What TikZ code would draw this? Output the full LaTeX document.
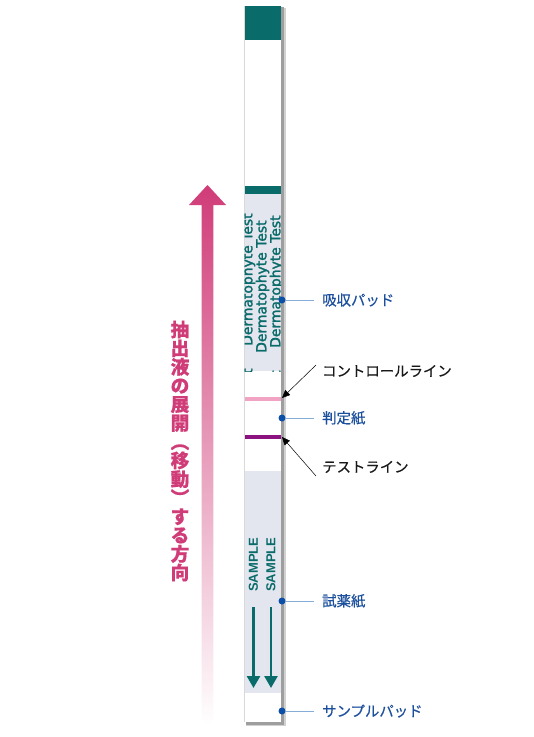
\documentclass[tikz,border=0pt]{standalone}
\usepackage{fontspec}
\usepackage{xcolor}
\usepackage{tikz}
\usetikzlibrary{arrows.meta}
\newfontfamily\jp[FakeBold=0.5]{Noto Sans CJK JP}
\newfontfamily\dvs[FakeBold=2]{DejaVu Sans}
\newfontfamily\lsans{Liberation Sans}

\definecolor{stripteal}{HTML}{0A6B6B}
\definecolor{padgray}{HTML}{E3E6EE}
\definecolor{ctrlpink}{HTML}{F2A3C4}
\definecolor{testpurple}{HTML}{8C1280}
\definecolor{flowmag}{HTML}{D03C78}
\definecolor{labblue}{HTML}{1C4F9C}
\definecolor{dotblue}{HTML}{0B4FA8}
\definecolor{leadblue}{HTML}{86ACD8}

\tikzset{
  partlabel/.style={anchor=west, inner sep=0pt, font=\jp\fontsize{14.4}{14.4}\selectfont, text=labblue},
  linelabel/.style={anchor=west, inner sep=0pt, font=\jp\fontsize{14.4}{14.4}\selectfont, text=black!90},
  partdot/.style={circle, fill=dotblue, inner sep=0pt, minimum size=7pt},
  leader/.style={leadblue, line width=0.9pt},
  callout/.style={black, line width=0.5pt, -{Triangle[length=8pt 0, width=7pt 0]}},
  brandtext/.style={rotate=90, anchor=west, inner sep=0pt, text=stripteal, font=\dvs\fontsize{13.9}{13.9}\selectfont},
  sampletext/.style={rotate=90, anchor=west, inner sep=0pt, text=stripteal, font=\lsans\bfseries\fontsize{13}{13}\selectfont},
  flowarrow/.style={stripteal, line width=2.6pt, -{Triangle[length=12pt 0, width=13pt 0]}}
}

\begin{document}
\begin{tikzpicture}[x=1pt, y=-1pt]
    \useasboundingbox (0,0) rectangle (534,737);

    % Flow direction arrow
    \shade[top color=flowmag, bottom color=white]
        (201.7,725) -- (201.7,205) -- (189,205) -- (207.5,185) -- (226,205) -- (213.3,205) -- (213.3,725) -- cycle;
    \node[inner sep=0pt, align=center, text=flowmag, font=\jp\bfseries\fontsize{18.7}{18.7}\selectfont] (flowtext) at (180,451)
        {抽\\出\\液\\の\\展\\開\\︵\\移\\動\\︶\\す\\る\\方\\向};

    % Strip shadow
    \fill[black!18] (246,8) rectangle (285.5,726);
    \fill[black!38] (245.5,7) rectangle (284,724.5);

    % Strip
    \fill[white] (244.5,6) rectangle (281,722);
    \draw[black!15, line width=0.6pt] (244.5,6) -- (244.5,722);
    \fill[stripteal] (244.5,6) rectangle (281,40);
    \fill[stripteal] (244.5,186) rectangle (281,194);
    \fill[padgray] (244.5,194) rectangle (281,371);
    \fill[padgray] (244.5,471) rectangle (281,693);
    \fill[ctrlpink] (244.5,397) rectangle (281,401);
    \fill[testpurple] (244.5,435) rectangle (281,439);

    % Absorbent pad print
    \begin{scope}
        \clip (244.5,194) rectangle (281,371);
        \foreach \cx/\cy in {248.5/346, 262.5/353, 276.5/348, 290.5/358}{
            \node[brandtext] at (\cx,\cy) {Dermatophyte Test};
            \node[brandtext] at (\cx,\cy+155) {Dermatophyte Test};
        }
    \end{scope}

    % Sample pad print
    \node[sampletext] (sample1) at (253.5,592) {SAMPLE};
    \node[sampletext] (sample2) at (271,592) {SAMPLE};
    \coordinate (s1top) at (253.5,607);
    \coordinate (s1tip) at (253.5,688);
    \coordinate (s2top) at (271,607);
    \coordinate (s2tip) at (271,688);
    \draw[flowarrow] (s1top) -- (s1tip);
    \draw[flowarrow] (s2top) -- (s2tip);

    % Part labels
    \node[partdot] (dabs) at (282,300) {};
    \node[partdot] (djudge) at (282,418) {};
    \node[partdot] (dreag) at (282,601) {};
    \node[partdot] (dsamp) at (282,711) {};
    \node[partlabel] (labs) at (322,300) {吸収パッド};
    \node[partlabel] (ljudge) at (322,418) {判定紙};
    \node[partlabel] (lreag) at (322,601) {試薬紙};
    \node[partlabel] (lsamp) at (322,711) {サンプルパッド};
    \draw[leader] (dabs) -- ([xshift=-8pt]labs.west);
    \draw[leader] (djudge) -- ([xshift=-8pt]ljudge.west);
    \draw[leader] (dreag) -- ([xshift=-8pt]lreag.west);
    \draw[leader] (dsamp) -- ([xshift=-8pt]lsamp.west);

    % Line callouts
    \node[linelabel] (lctrl) at (322,371) {コントロールライン};
    \node[linelabel] (ltest) at (322,467) {テストライン};
    \coordinate (ctrltip) at (282,398);
    \coordinate (testtip) at (282,437);
    \draw[callout] ([shift={(-6pt,6pt)}]lctrl.west) -- (ctrltip);
    \draw[callout] ([shift={(-6pt,-9pt)}]ltest.west) -- (testtip);
\end{tikzpicture}
\end{document}
